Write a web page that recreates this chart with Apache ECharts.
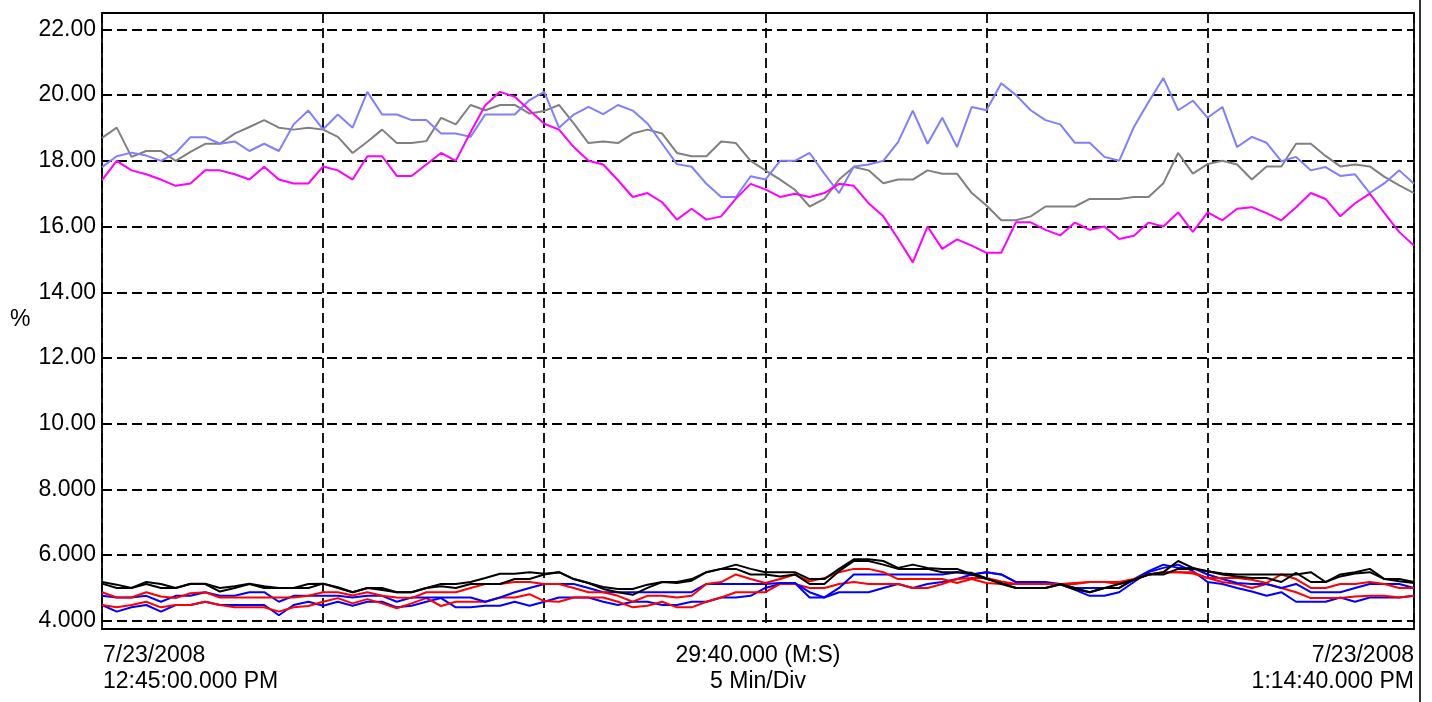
<!DOCTYPE html>
<html>
<head>
<meta charset="utf-8">
<title>trend</title>
<script src="https://cdn.jsdelivr.net/npm/echarts@6.0.0/dist/echarts.min.js"></script>
<style>
  html, body { margin: 0; padding: 0; background: #fff; }
  #wrap { width: 1432px; height: 702px; }
</style>
</head>
<body>
<div id="wrap"></div>
<script>
// samples every 20 s, 12:45:00 -> 13:14:40
var stepSec = 20;
var spanSec = 1780;
var yTicks = [4, 6, 8, 10, 12, 14, 16, 18, 20, 22];

var magenta = [
  17.41, 18.0, 17.71, 17.59, 17.43, 17.24, 17.31, 17.71, 17.71, 17.59,
  17.43, 17.82, 17.43, 17.31, 17.31, 17.83, 17.71, 17.43, 18.14, 18.14,
  17.54, 17.54, 17.89, 18.24, 18.0, 18.87, 19.69, 20.1, 19.95, 19.54,
  19.13, 18.95, 18.42, 18.0, 17.89, 17.41, 16.9, 17.02, 16.74, 16.21,
  16.54, 16.21, 16.31, 16.85, 17.3, 17.13, 16.9, 17.0, 16.9, 17.02,
  17.3, 17.24, 16.71, 16.31, 15.63, 14.91, 16.0, 15.32, 15.61, 15.42,
  15.2, 15.2, 16.13, 16.13, 15.9, 15.73, 16.12, 15.9, 16.0, 15.62,
  15.72, 16.12, 16.0, 16.43, 15.84, 16.43, 16.19, 16.54, 16.59, 16.41,
  16.19, 16.59, 17.02, 16.84, 16.31, 16.71, 17.0, 16.41, 15.83, 15.42
];
var lightBlue = [
  17.81, 18.14, 18.25, 18.16, 18.0, 18.24, 18.72, 18.72, 18.52, 18.59,
  18.30, 18.52, 18.30, 19.11, 19.53, 18.96, 19.41, 19.01, 20.1, 19.41,
  19.41, 19.24, 19.24, 18.83, 18.83, 18.73, 19.41, 19.41, 19.41, 19.85,
  20.1, 19.01, 19.41, 19.64, 19.42, 19.7, 19.53, 19.14, 18.52, 17.9,
  17.82, 17.3, 16.9, 16.9, 17.53, 17.43, 18.0, 18.0, 18.24, 17.61,
  17.02, 17.83, 17.89, 18.0, 18.57, 19.53, 18.52, 19.31, 18.42, 19.64,
  19.54, 20.36, 20.0, 19.54, 19.24, 19.11, 18.55, 18.55, 18.12, 18.0,
  19.03, 19.8, 20.52, 19.54, 19.83, 19.31, 19.64, 18.42, 18.73, 18.55,
  17.99, 18.12, 17.71, 17.81, 17.54, 17.59, 17.02, 17.32, 17.71, 17.3
];
var gray = [
  18.70, 19.01, 18.12, 18.30, 18.30, 18.0, 18.27, 18.52, 18.52, 18.83,
  19.03, 19.24, 19.01, 18.95, 19.01, 18.95, 18.73, 18.24, 18.58, 18.95,
  18.54, 18.54, 18.6, 19.31, 19.11, 19.7, 19.54, 19.7, 19.7, 19.44,
  19.52, 19.7, 19.14, 18.54, 18.59, 18.54, 18.83, 18.95, 18.83, 18.24,
  18.14, 18.14, 18.59, 18.54, 18.0, 17.71, 17.43, 17.12, 16.61, 16.84,
  17.43, 17.81, 17.71, 17.32, 17.43, 17.43, 17.71, 17.61, 17.61, 17.02,
  16.64, 16.19, 16.19, 16.31, 16.61, 16.61, 16.61, 16.84, 16.84, 16.84,
  16.9, 16.9, 17.32, 18.24, 17.61, 17.9, 18.0, 17.89, 17.43, 17.83,
  17.83, 18.52, 18.52, 18.15, 17.83, 17.89, 17.83, 17.51, 17.25, 17.02
];
var blackA = [
  5.18, 5.10, 5.0, 5.18, 5.12, 5.0, 5.13, 5.13, 5.0, 5.05,
  5.13, 5.05, 5.0, 5.0, 5.12, 5.13, 5.02, 4.87, 5.0, 5.0,
  4.87, 4.87, 5.0, 5.12, 5.12, 5.18, 5.3, 5.43, 5.43, 5.48,
  5.43, 5.48, 5.27, 5.15, 5.03, 4.97, 4.97, 5.10, 5.18, 5.18,
  5.27, 5.48, 5.58, 5.71, 5.58, 5.48, 5.48, 5.48, 5.27, 5.27,
  5.58, 5.87, 5.87, 5.82, 5.61, 5.71, 5.61, 5.58, 5.58, 5.41,
  5.27, 5.15, 5.0, 5.0, 5.0, 5.10, 4.96, 4.87, 5.0, 5.12,
  5.25, 5.41, 5.48, 5.82, 5.61, 5.51, 5.44, 5.41, 5.41, 5.41,
  5.41, 5.41, 5.48, 5.18, 5.41, 5.48, 5.58, 5.27, 5.27, 5.18
];
var blackB = [
  5.13, 5.0, 5.0, 5.12, 5.0, 5.0, 5.12, 5.12, 4.89, 5.0,
  5.12, 5.0, 5.0, 5.0, 5.0, 5.13, 5.0, 4.87, 5.0, 4.94,
  4.87, 4.87, 5.0, 5.05, 5.0, 5.12, 5.12, 5.12, 5.27, 5.27,
  5.41, 5.48, 5.27, 5.15, 4.97, 4.87, 4.79, 5.0, 5.18, 5.15,
  5.22, 5.48, 5.58, 5.58, 5.41, 5.41, 5.35, 5.41, 5.12, 5.12,
  5.51, 5.82, 5.82, 5.71, 5.58, 5.58, 5.58, 5.48, 5.48, 5.46,
  5.3, 5.12, 5.0, 5.0, 5.0, 5.12, 5.0, 4.87, 5.0, 5.0,
  5.25, 5.41, 5.41, 5.58, 5.58, 5.51, 5.41, 5.35, 5.3, 5.3,
  5.18, 5.46, 5.18, 5.18, 5.35, 5.44, 5.48, 5.27, 5.2, 5.15
];
var redA = [
  4.87, 4.71, 4.71, 4.87, 4.74, 4.69, 4.84, 4.87, 4.71, 4.71,
  4.71, 4.71, 4.71, 4.71, 4.76, 4.87, 4.87, 4.77, 4.87, 4.76,
  4.71, 4.69, 4.87, 4.87, 4.87, 5.0, 5.12, 5.12, 5.18, 5.18,
  5.12, 5.12, 5.0, 4.87, 4.87, 4.76, 4.58, 4.76, 4.76, 4.71,
  4.76, 5.12, 5.18, 5.41, 5.27, 5.15, 5.27, 5.41, 5.2, 5.3,
  5.48, 5.58, 5.58, 5.48, 5.27, 5.27, 5.27, 5.27, 5.15, 5.27,
  5.15, 5.12, 5.12, 5.12, 5.12, 5.12, 5.12, 5.18, 5.18, 5.18,
  5.27, 5.41, 5.48, 5.48, 5.48, 5.3, 5.3, 5.3, 5.25, 5.15,
  5.41, 5.27, 5.0, 5.0, 5.12, 5.12, 5.18, 5.12, 5.0, 5.0
];
var blueA = [
  4.76, 4.71, 4.71, 4.76, 4.58, 4.76, 4.76, 4.87, 4.76, 4.76,
  4.87, 4.87, 4.58, 4.76, 4.76, 4.76, 4.76, 4.71, 4.76, 4.76,
  4.58, 4.71, 4.71, 4.71, 4.71, 4.71, 4.58, 4.71, 4.87, 5.0,
  5.12, 5.12, 5.12, 5.0, 4.87, 4.87, 4.87, 4.87, 4.87, 4.87,
  4.87, 5.12, 5.12, 5.12, 5.12, 5.12, 5.15, 5.15, 4.87, 4.71,
  5.0, 5.41, 5.41, 5.41, 5.41, 5.41, 5.41, 5.41, 5.48, 5.41,
  5.48, 5.41, 5.18, 5.18, 5.18, 5.12, 5.0, 5.0, 5.0, 5.0,
  5.27, 5.51, 5.71, 5.61, 5.61, 5.41, 5.27, 5.15, 5.12, 5.12,
  5.0, 5.12, 4.87, 4.87, 4.87, 5.0, 5.12, 5.12, 5.12, 5.0
];
var redB = [
  4.48, 4.41, 4.48, 4.58, 4.41, 4.48, 4.48, 4.58, 4.48, 4.41,
  4.41, 4.41, 4.28, 4.41, 4.45, 4.58, 4.69, 4.53, 4.66, 4.53,
  4.38, 4.53, 4.69, 4.45, 4.58, 4.58, 4.58, 4.71, 4.71, 4.81,
  4.6, 4.58, 4.71, 4.71, 4.71, 4.58, 4.41, 4.46, 4.58, 4.41,
  4.41, 4.58, 4.71, 4.87, 4.87, 4.87, 5.12, 5.12, 5.0, 5.0,
  5.12, 5.18, 5.12, 5.12, 5.12, 5.0, 5.0, 5.12, 5.27, 5.3,
  5.3, 5.2, 5.12, 5.12, 5.12, 5.12, 5.15, 5.18, 5.18, 5.12,
  5.25, 5.41, 5.48, 5.48, 5.44, 5.3, 5.18, 5.12, 5.0, 5.12,
  5.0, 4.87, 4.69, 4.69, 4.69, 4.74, 4.76, 4.76, 4.71, 4.76
];
var blueB = [
  4.48, 4.28, 4.41, 4.48, 4.28, 4.48, 4.48, 4.58, 4.48, 4.48,
  4.48, 4.48, 4.17, 4.48, 4.58, 4.46, 4.58, 4.46, 4.58, 4.58,
  4.41, 4.46, 4.58, 4.69, 4.41, 4.41, 4.46, 4.46, 4.58, 4.46,
  4.58, 4.71, 4.71, 4.71, 4.58, 4.48, 4.58, 4.58, 4.48, 4.48,
  4.58, 4.58, 4.71, 4.71, 4.76, 5.0, 5.12, 5.15, 4.71, 4.71,
  4.87, 4.87, 4.87, 5.0, 5.12, 5.0, 5.12, 5.18, 5.27, 5.41,
  5.48, 5.41, 5.18, 5.12, 5.12, 5.12, 4.94, 4.76, 4.76, 4.87,
  5.18, 5.48, 5.61, 5.71, 5.51, 5.18, 5.12, 5.0, 4.89, 4.76,
  4.87, 4.58, 4.58, 4.58, 4.71, 4.58, 4.71, 4.71, 4.71, 4.76
];

var FONT = "'Liberation Sans', Arial, sans-serif";
var TXT = '23px ' + FONT;

function toPairs(arr) {
  return arr.map(function (v, i) { return [i * stepSec, v]; });
}

function line(name, arr, color) {
  return {
    name: name,
    type: 'line',
    data: toPairs(arr),
    symbol: 'none',
    lineStyle: { color: color, width: 2 },
    itemStyle: { color: color },
    animation: false,
    silent: true
  };
}

var gridDash = { color: '#000', width: 1.8, type: [10, 5] };

var option = {
  backgroundColor: '#fff',
  animation: false,
  grid: {
    left: 102, top: 13, width: 1312, height: 616,
    show: true, borderColor: '#000', borderWidth: 1.8,
    backgroundColor: 'transparent'
  },
  xAxis: {
    type: 'value',
    min: 0, max: spanSec, interval: 300,
    axisLine: { show: false },
    axisTick: { show: false },
    axisLabel: { show: false },
    splitLine: { show: true, lineStyle: gridDash }
  },
  yAxis: {
    type: 'value',
    min: 3.75, max: 22.5,
    axisLine: { show: false },
    axisTick: { show: false, customValues: yTicks },
    axisLabel: {
      customValues: yTicks,
      margin: 6,
      color: '#000',
      fontFamily: FONT,
      fontSize: 23,
      formatter: function (v) { return v >= 10 ? v.toFixed(2) : v.toFixed(3); }
    },
    splitLine: { show: true, lineStyle: gridDash }
  },
  graphic: [
    { type: 'line', shape: { x1: 1420, y1: 0, x2: 1420, y2: 702 }, style: { stroke: '#000', lineWidth: 1.6 } },
    { type: 'text', left: 10, top: 308, style: { text: '%', font: TXT, fill: '#000' } },
    { type: 'text', x: 103, y: 656, style: { text: '7/23/2008', font: TXT, fill: '#000', textAlign: 'left', textVerticalAlign: 'middle' } },
    { type: 'text', x: 103, y: 682, style: { text: '12:45:00.000 PM', font: TXT, fill: '#000', textAlign: 'left', textVerticalAlign: 'middle' } },
    { type: 'text', x: 758, y: 656, style: { text: '29:40.000 (M:S)', font: TXT, fill: '#000', textAlign: 'center', textVerticalAlign: 'middle' } },
    { type: 'text', x: 758, y: 682, style: { text: '5 Min/Div', font: TXT, fill: '#000', textAlign: 'center', textVerticalAlign: 'middle' } },
    { type: 'text', x: 1414, y: 656, style: { text: '7/23/2008', font: TXT, fill: '#000', textAlign: 'right', textVerticalAlign: 'middle' } },
    { type: 'text', x: 1414, y: 682, style: { text: '1:14:40.000 PM', font: TXT, fill: '#000', textAlign: 'right', textVerticalAlign: 'middle' } }
  ],
  series: [
    line('ch1', gray, '#808080'),
    line('ch2', lightBlue, '#7f7fff'),
    line('ch3', magenta, '#ff00ff'),
    line('ch4', blueB, '#0000ff'),
    line('ch5', redB, '#ff0000'),
    line('ch6', blueA, '#0000ff'),
    line('ch7', redA, '#ff0000'),
    line('ch8', blackB, '#000000'),
    line('ch9', blackA, '#000000')
  ]
};

var myChart = echarts.init(document.getElementById('wrap'));
myChart.setOption(option);
</script>
</body>
</html>
